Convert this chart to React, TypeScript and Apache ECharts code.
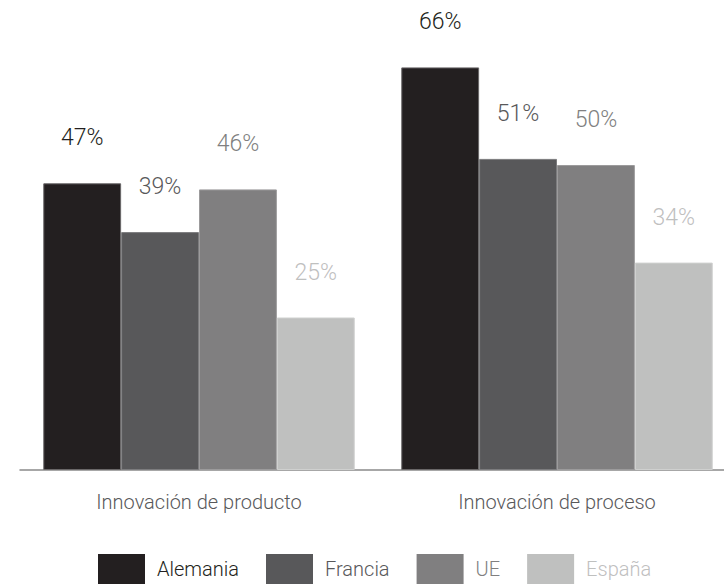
import React, { useEffect, useRef } from "react";
import * as echarts from "echarts";

const categories = ["Innovación de producto", "Innovación de proceso"];
const seriesNames = ["Alemania", "Francia", "UE", "España"];
const alemania = [47, 66];
const francia = [39, 51];
const ue = [46, 50];
const espana = [25, 34];
const seriesValues = [alemania, francia, ue, espana];
const colors = ["#231f20", "#58585a", "#807f80", "#bfc0bf"];
const borderColors = ["#6a6768", "#7c7c7e", "#9c9b9c", "#cfd0cf"];

const FONT = "Roboto";

export default function App() {
  const ref = useRef<HTMLDivElement>(null);
  useEffect(() => {
    if (!ref.current) return;
    const chart = echarts.init(ref.current, null, { renderer: "svg" });
    chart.setOption({
      animation: false,
      backgroundColor: "#ffffff",
      textStyle: { fontFamily: FONT },
      grid: { left: 20, right: 4, top: 43, bottom: 114, containLabel: false },
      legend: {
        data: seriesNames.map((n, i) => ({
          name: n,
          textStyle: { color: colors[i] },
        })),
        top: 554,
        left: 98,
        padding: 0,
        itemWidth: 47,
        itemHeight: 30,
        itemGap: 27,
        icon: "rect",
        itemStyle: { borderWidth: 0 },
        textStyle: {
          fontFamily: FONT,
          fontSize: 20,
          fontWeight: 300,
          padding: [0, 0, 0, 7],
        },
      },
      xAxis: {
        type: "category",
        data: categories,
        axisLine: { show: true, lineStyle: { color: "#8a8a8a", width: 1.5 } },
        axisTick: { show: false },
        axisLabel: {
          margin: 22,
          color: "#58585a",
          fontFamily: FONT,
          fontSize: 20,
          fontWeight: 300,
        },
      },
      yAxis: {
        type: "value",
        min: 0,
        max: 70,
        show: false,
        splitLine: { show: false },
      },
      series: seriesNames.map((name, i) => ({
        name,
        type: "bar",
        data: seriesValues[i],
        barGap: "0%",
        barCategoryGap: "13%",
        itemStyle: {
          color: colors[i],
          borderColor: borderColors[i],
          borderWidth: 1,
        },
        label: {
          show: true,
          position: "top",
          distance: 34,
          formatter: "{c}%",
          color: colors[i],
          fontFamily: FONT,
          fontSize: 23,
          fontWeight: 300,
        },
      })),
    });
    return () => chart.dispose();
  }, []);
  return (
    <div
      style={{
        position: "fixed",
        left: 0,
        top: 0,
        width: 724,
        height: 584,
        overflow: "hidden",
        background: "#ffffff",
      }}
    >
      <div ref={ref} style={{ width: 740, height: 584 }} />
    </div>
  );
}
